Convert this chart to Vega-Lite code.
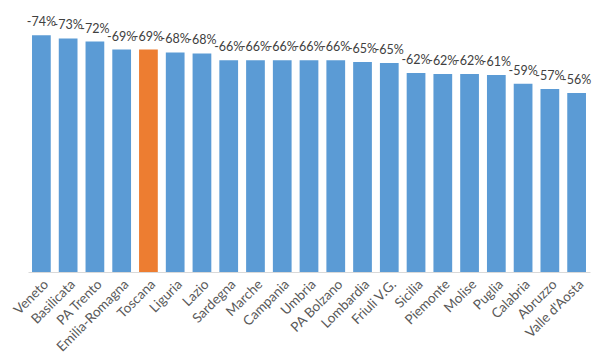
{
  "$schema": "https://vega.github.io/schema/vega-lite/v6.json",
  "width": 562,
  "height": 256,
  "autosize": "none",
  "padding": {"left": 28, "top": 16, "right": 15, "bottom": 91},
  "background": "white",
  "config": {"view": {"stroke": null}, "font": "Lato"},
  "data": {
    "values": [
      {"region": "Veneto", "value": -74, "label": "-74%", "highlight": "no"},
      {"region": "Basilicata", "value": -73, "label": "-73%", "highlight": "no"},
      {"region": "PA Trento", "value": -72, "label": "-72%", "highlight": "no"},
      {"region": "Emilia-Romagna", "value": -69.5, "label": "-69%", "highlight": "no"},
      {"region": "Toscana", "value": -69.5, "label": "-69%", "highlight": "yes"},
      {"region": "Liguria", "value": -68.6, "label": "-68%", "highlight": "no"},
      {"region": "Lazio", "value": -68.3, "label": "-68%", "highlight": "no"},
      {"region": "Sardegna", "value": -66.2, "label": "-66%", "highlight": "no"},
      {"region": "Marche", "value": -66.2, "label": "-66%", "highlight": "no"},
      {"region": "Campania", "value": -66.2, "label": "-66%", "highlight": "no"},
      {"region": "Umbria", "value": -66.2, "label": "-66%", "highlight": "no"},
      {"region": "PA Bolzano", "value": -66.2, "label": "-66%", "highlight": "no"},
      {"region": "Lombardia", "value": -65.6, "label": "-65%", "highlight": "no"},
      {"region": "Friuli V.G.", "value": -65.3, "label": "-65%", "highlight": "no"},
      {"region": "Sicilia", "value": -62.2, "label": "-62%", "highlight": "no"},
      {"region": "Piemonte", "value": -61.9, "label": "-62%", "highlight": "no"},
      {"region": "Molise", "value": -61.9, "label": "-62%", "highlight": "no"},
      {"region": "Puglia", "value": -61.6, "label": "-61%", "highlight": "no"},
      {"region": "Calabria", "value": -58.8, "label": "-59%", "highlight": "no"},
      {"region": "Abruzzo", "value": -57.2, "label": "-57%", "highlight": "no"},
      {"region": "Valle d'Aosta", "value": -55.9, "label": "-56%", "highlight": "no"}
    ]
  },
  "encoding": {
    "x": {
      "field": "region",
      "type": "nominal",
      "sort": null,
      "scale": {"paddingInner": 0.3, "paddingOuter": 0.15},
      "axis": {
        "title": null,
        "labelAngle": -45,
        "labelFontSize": 13.5,
        "labelColor": "#595959",
        "ticks": false,
        "domainColor": "#D9D9D9",
        "labelPadding": 5
      }
    },
    "y": {
      "field": "value",
      "type": "quantitative",
      "scale": {"domain": [0, -80], "nice": false},
      "axis": null
    }
  },
  "layer": [
    {
      "mark": {"type": "bar"},
      "encoding": {
        "color": {
          "field": "highlight",
          "type": "nominal",
          "scale": {"domain": ["no", "yes"], "range": ["#5B9BD5", "#ED7D31"]},
          "legend": null
        }
      }
    },
    {
      "mark": {"type": "text", "baseline": "alphabetic", "dy": -9, "fontSize": 12.5, "color": "#404040"},
      "encoding": {"text": {"field": "label"}}
    }
  ]
}
